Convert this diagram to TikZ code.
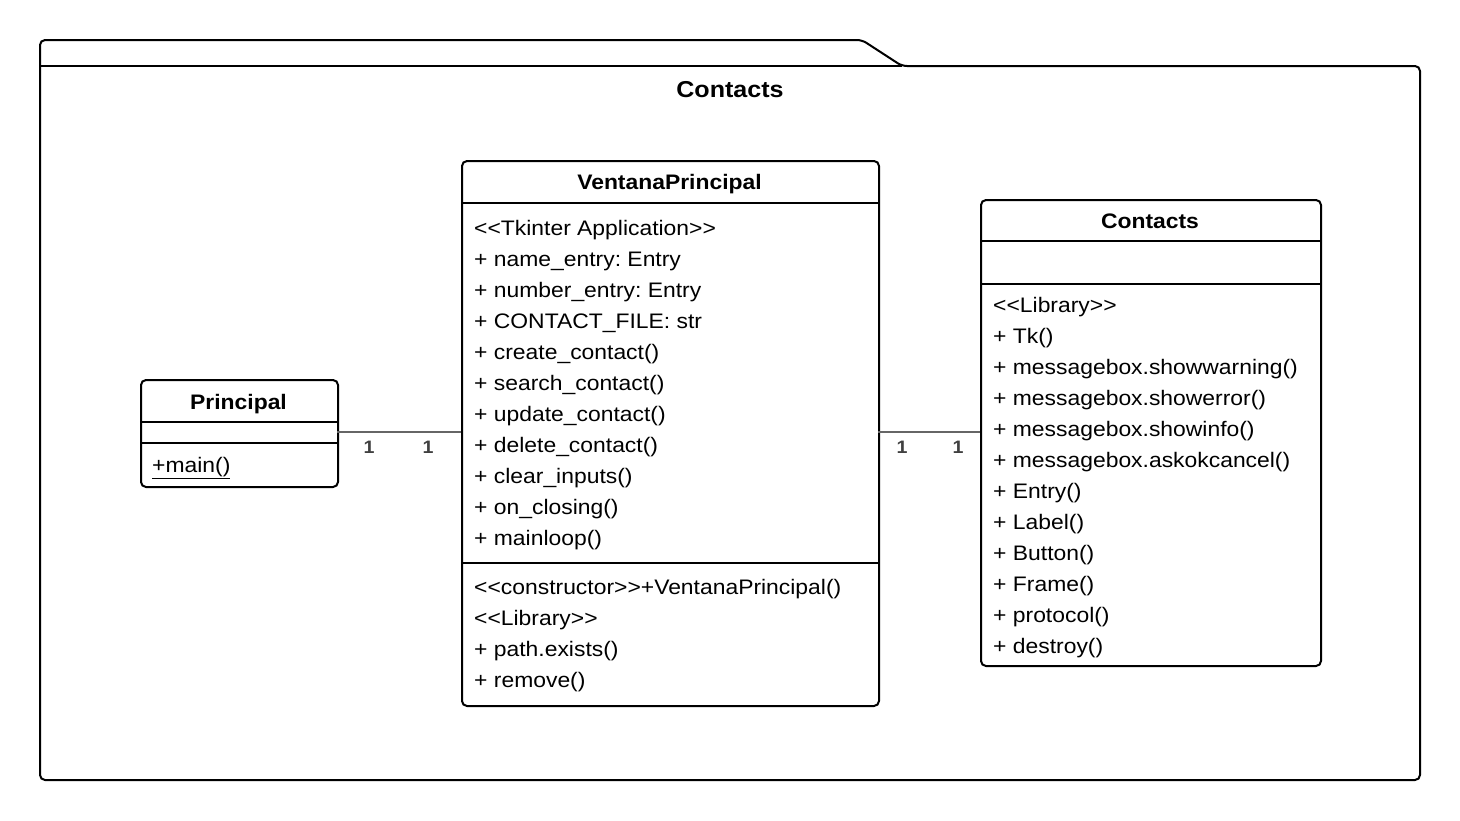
\documentclass[tikz,border=0pt]{standalone}
\usepackage{fontspec}
\setmainfont{Liberation Sans}[Ligatures=TeXOff,FakeStretch=1.09]
\frenchspacing
\begin{document}
\begin{tikzpicture}[x=1pt,y=-1pt,
  cls/.style={draw=black,line width=2pt,rounded corners=5pt,inner sep=0pt,anchor=north west},
  sep/.style={draw=black,line width=2pt},
  conn/.style={draw=black!60,line width=2pt},
  ttl/.style={font=\fontsize{21}{25}\selectfont\bfseries,inner sep=0pt,anchor=base},
  pkgttl/.style={font=\fontsize{23}{27}\selectfont\bfseries,inner sep=0pt,anchor=base},
  txt/.style={font=\fontsize{21}{25}\selectfont,inner sep=0pt,anchor=base west},
  mult/.style={font=\fontsize{18}{21}\selectfont\bfseries,text=black!75,inner sep=0pt,anchor=base}]
\useasboundingbox (0,0) rectangle (1460,820);
% package
\draw[sep,rounded corners=5pt] (40,780) -- (40,40) -- (862,40) -- (902,66) -- (1420,66) -- (1420,780) -- cycle;
\draw[sep] (40,66) -- (902,66);
\node[pkgttl] (pkgtitle) at (730,97) {Contacts};
% Principal
\node[cls,minimum width=197pt,minimum height=107pt] (pr) at (140,379) {};
\draw[sep] (140,422) -- (337,422);
\draw[sep] (140,443) -- (337,443);
\node[ttl] (prt) at (238.5,409) {Principal};
\node[txt] (prm) at (152,472) {\underline{+main()}};
% VentanaPrincipal
\node[cls,minimum width=417pt,minimum height=545pt] (vp) at (461,160) {};
\draw[sep] (461,203) -- (878,203);
\draw[sep] (461,563) -- (878,563);
\node[ttl] (vpt) at (669.5,189) {VentanaPrincipal};
\foreach \t [count=\i from 0] in {{<<Tkinter Application>>},{+ name\_entry: Entry},{+ number\_entry: Entry},{+ CONTACT\_FILE: str},{+ create\_contact()},{+ search\_contact()},{+ update\_contact()},{+ delete\_contact()},{+ clear\_inputs()},{+ on\_closing()},{+ mainloop()}}
  \node[txt] (vpa\i) at (474,235+31*\i) {\t};
\foreach \t [count=\i from 0] in {{<<constructor>>+VentanaPrincipal()},{<<Library>>},{+ path.exists()},{+ remove()}}
  \node[txt] (vpm\i) at (474,594+31*\i) {\t};
% Contacts class
\node[cls,minimum width=340pt,minimum height=466pt] (ct) at (980,199) {};
\draw[sep] (980,241) -- (1320,241);
\draw[sep] (980,284) -- (1320,284);
\node[ttl] (ctt) at (1150,228) {Contacts};
\foreach \t [count=\i from 0] in {{<<Library>>},{+ Tk()},{+ messagebox.showwarning()},{+ messagebox.showerror()},{+ messagebox.showinfo()},{+ messagebox.askokcancel()},{+ Entry()},{+ Label()},{+ Button()},{+ Frame()},{+ protocol()},{+ destroy()}}
  \node[txt] (ctm\i) at (993,312+31*\i) {\t};
% connectors
\coordinate (a1) at (337,432);
\coordinate (a2) at (461,432);
\coordinate (b1) at (878,432);
\coordinate (b2) at (980,432);
\draw[conn] (a1) -- (a2);
\draw[conn] (b1) -- (b2);
\node[mult] (m1) at (369,453) {1};
\node[mult] (m2) at (428,453) {1};
\node[mult] (m3) at (902,453) {1};
\node[mult] (m4) at (958,453) {1};
\end{tikzpicture}
\end{document}
